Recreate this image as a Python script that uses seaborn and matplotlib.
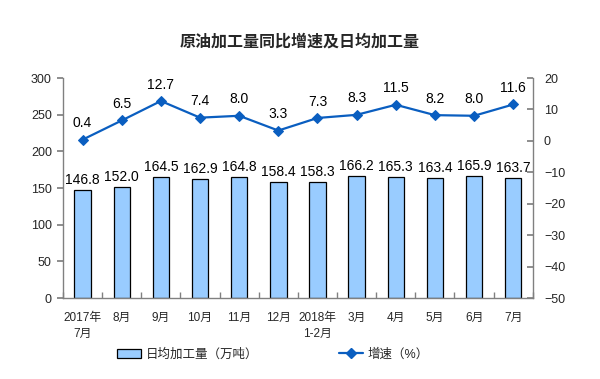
import matplotlib
matplotlib.use("Agg")
import matplotlib.pyplot as plt
import seaborn as sns
import pandas as pd
import numpy as np
from matplotlib.lines import Line2D
from matplotlib.patches import Patch

months = ["2017年\n7月", "8月", "9月", "10月", "11月", "12月", "2018年\n1-2月",
          "3月", "4月", "5月", "6月", "7月"]
daily_volume = [146.8, 152.0, 164.5, 162.9, 164.8, 158.4, 158.3, 166.2, 165.3, 163.4, 165.9, 163.7]
growth_rate = [0.4, 6.5, 12.7, 7.4, 8.0, 3.3, 7.3, 8.3, 11.5, 8.2, 8.0, 11.6]

sns.set_theme(style="white")
plt.rcParams['font.family'] = ['Liberation Sans', 'Noto Sans CJK SC', 'DejaVu Sans']

df = pd.DataFrame({"month": months, "volume": daily_volume, "growth": growth_rate})

fig = plt.figure(figsize=(6.0, 3.79), dpi=100)
ax = fig.add_axes([0.105, 0.2137, 0.783, 0.5803])

bar_color = "#99CCFF"
line_color = "#0A5EC0"
spine_color = "#808080"

sns.barplot(data=df, x="month", y="volume", ax=ax, color=bar_color,
            edgecolor="black", linewidth=0.9, width=0.42, saturation=1)
ax.set_ylim(0, 300)
ax.set_yticks(np.arange(0, 301, 50))
ax.set_xlim(-0.5, len(months) - 0.5)
ax.set_xlabel("")
ax.set_ylabel("")
for i, v in enumerate(daily_volume):
    ax.text(i, v + 4, f"{v:.1f}", ha="center", va="bottom", fontsize=10, color="black")

ax2 = ax.twinx()
sns.lineplot(x=np.arange(len(months)), y=growth_rate, ax=ax2, color=line_color,
             marker="D", markersize=5, linewidth=1.6, markeredgecolor=line_color)
ax2.set_ylim(-50, 20)
ax2.set_yticks(np.arange(-50, 21, 10))
for i, v in enumerate(growth_rate):
    ax2.text(i, v + 3, f"{v:.1f}", ha="center", va="bottom", fontsize=10, color="black")

for a in (ax, ax2):
    a.spines["top"].set_visible(False)
    for s in ("left", "right", "bottom"):
        a.spines[s].set_color(spine_color)
        a.spines[s].set_linewidth(1)
ax.spines["right"].set_visible(False)
ax2.spines["left"].set_visible(False)
ax2.spines["bottom"].set_visible(False)

ax.tick_params(axis="y", direction="out", length=4, color=spine_color, labelsize=9, pad=4, left=True)
ax2.tick_params(axis="y", direction="in", length=4, color=spine_color, labelsize=9, pad=8, right=True)
ax.tick_params(axis="x", bottom=False, labelsize=8.5, pad=4)
ax.set_xticks(np.arange(len(months)))
ax.set_xticklabels(months, linespacing=1.5)
# minor ticks between categories
ax.set_xticks(np.arange(-0.5, len(months), 1), minor=True)
ax.tick_params(axis="x", which="minor", direction="in", length=4, color=spine_color, bottom=True)

fig.text(0.5, 0.89, "原油加工量同比增速及日均加工量", ha="center", va="center",
         fontsize=11.5, fontweight="bold")

handles = [Patch(facecolor=bar_color, edgecolor="black", linewidth=0.9),
           Line2D([0], [0], color=line_color, marker="D", markersize=5, linewidth=1.6)]
fig.legend(handles, ["日均加工量（万吨）", "增速（%）"], loc="center",
           bbox_to_anchor=(0.455, 0.065), ncol=2, frameon=False, fontsize=9,
           columnspacing=6.5, handlelength=1.9, handletextpad=0.4)

fig.savefig("out.png", dpi=100)
